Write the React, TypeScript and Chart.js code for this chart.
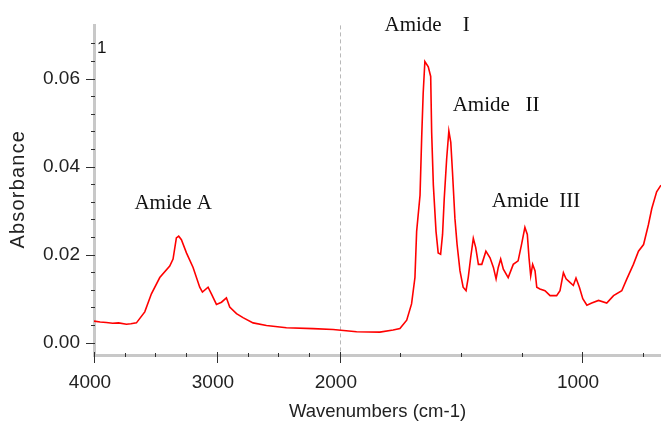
import React, { useEffect, useRef } from "react";
import { Chart, registerables } from "chart.js";

Chart.register(...registerables);

// ---- data ----
const wavenumbers = [
  4000, 3950, 3900, 3848, 3800, 3736, 3700, 3655, 3587, 3533, 3465, 3384, 3357, 3330, 3311, 3289,
  3248, 3194, 3140, 3118, 3072, 3045, 3004, 2963, 2923, 2896, 2841, 2788, 2706, 2597, 2435, 2218,
  2055, 1931, 1835, 1780, 1752, 1724, 1704, 1690, 1683, 1669, 1662, 1656, 1649, 1635, 1625, 1621,
  1614, 1603, 1594, 1584, 1576, 1569, 1559, 1550, 1542, 1535, 1525, 1516, 1504, 1491, 1479, 1470,
  1460, 1449, 1439, 1428, 1414, 1397, 1380, 1366, 1355, 1346, 1336, 1325, 1305, 1284, 1264, 1250,
  1236, 1226, 1219, 1212, 1204, 1194, 1187, 1174, 1153, 1132, 1105, 1091, 1077, 1066, 1050, 1036,
  1025, 1011, 997, 980, 960, 932, 898, 870, 836, 815, 788, 767, 746, 726, 712, 692, 674,
];
const absorbance = [
  0.0049, 0.0047, 0.0046, 0.0044, 0.0045, 0.0042, 0.0043, 0.0045, 0.007, 0.0111, 0.0148, 0.0174, 0.019, 0.0238, 0.0242, 0.0234,
  0.0204, 0.0171, 0.0126, 0.0115, 0.0126, 0.0111, 0.0087, 0.0092, 0.0102, 0.0081, 0.0066, 0.0057, 0.0045, 0.0039, 0.0034, 0.0032,
  0.003, 0.0025, 0.0024, 0.0029, 0.0032, 0.0051, 0.0088, 0.0148, 0.0253, 0.0335, 0.047, 0.0567, 0.0639, 0.0627, 0.0605, 0.0478,
  0.0358, 0.0253, 0.0204, 0.0201, 0.0246, 0.0328, 0.0418, 0.0481, 0.0455, 0.0388, 0.0283, 0.0223, 0.0163, 0.0126, 0.0118, 0.0148,
  0.0193, 0.0237, 0.0216, 0.0178, 0.0178, 0.0208, 0.0193, 0.0171, 0.0145, 0.0171, 0.019, 0.0167, 0.0148, 0.0178, 0.0186, 0.0223,
  0.0262, 0.0246, 0.0193, 0.0152, 0.0178, 0.0163, 0.0126, 0.0122, 0.0118, 0.0107, 0.0107, 0.0118, 0.0159, 0.0145, 0.0137, 0.013,
  0.0147, 0.0126, 0.01, 0.0085, 0.009, 0.0096, 0.009, 0.0107, 0.0118, 0.0145, 0.0178, 0.0208, 0.0223, 0.0268, 0.0305, 0.0343, 0.0358,
];

const xMajorTicks = [4000, 3000, 2000, 1000];
const xMinorTicks = [3750, 3500, 3250, 2750, 2500, 2250, 1750, 1500, 1250, 750];
const yMajorTicks = [0, 0.02, 0.04, 0.06];
const yMinorTicks = [0.004, 0.008, 0.012, 0.016, 0.024, 0.028, 0.032, 0.036, 0.044, 0.048, 0.052, 0.056, 0.064, 0.068];

const xRange = [4000, 674];
const yRange = [-0.0028, 0.0721];
const axisBreak = 2000;

const labels = [
  { text: "Amide A", w: 3356, a: 0.0316 },
  { text: "Amide    I", w: 1640, a: 0.072 },
  { text: "Amide   II", w: 1355, a: 0.054 },
  { text: "Amide  III", w: 1190, a: 0.032 },
];
const markerLabel = { text: "1", w: 3937, a: 0.0669 };

const xTitle = "Wavenumbers (cm-1)";
const yTitle = "Absorbance";

// Split axis: the part below 2000 cm-1 is drawn at about twice the scale.
const RIGHT_STRETCH = 1.97;
function toAxis(w: number) {
  return w >= axisBreak ? xRange[0] - w : xRange[0] - axisBreak + (axisBreak - w) * RIGHT_STRETCH;
}
function fromAxis(u: number) {
  const split = xRange[0] - axisBreak;
  return u <= split ? xRange[0] - u : axisBreak - (u - split) / RIGHT_STRETCH;
}

const decorPlugin = {
  id: "decor",
  beforeDatasetsDraw(chart: any) {
    const { ctx, chartArea, scales } = chart;
    const x = Math.round(scales.x.getPixelForValue(toAxis(axisBreak))) + 0.5;
    ctx.save();
    ctx.strokeStyle = "#b8b8b8";
    ctx.lineWidth = 1;
    ctx.setLineDash([4, 3]);
    ctx.beginPath();
    ctx.moveTo(x, chartArea.top);
    ctx.lineTo(x, chartArea.bottom);
    ctx.stroke();
    ctx.restore();
  },
  afterDraw(chart: any) {
    const { ctx, chartArea, scales } = chart;
    const xs = scales.x;
    const ys = scales.y;
    ctx.save();
    ctx.strokeStyle = "#303030";
    ctx.lineWidth = 1;
    const b = chartArea.bottom;
    const l = chartArea.left;
    ctx.beginPath();
    for (const w of xMajorTicks) {
      const px = Math.round(xs.getPixelForValue(toAxis(w))) + 0.5;
      ctx.moveTo(px, b - 3);
      ctx.lineTo(px, b + 8);
    }
    for (const w of xMinorTicks) {
      const px = Math.round(xs.getPixelForValue(toAxis(w))) + 0.5;
      ctx.moveTo(px, b - 2);
      ctx.lineTo(px, b + 2);
    }
    for (const v of yMajorTicks) {
      const py = Math.round(ys.getPixelForValue(v)) + 0.5;
      ctx.moveTo(l - 8, py);
      ctx.lineTo(l + 1, py);
    }
    for (const v of yMinorTicks) {
      const py = Math.round(ys.getPixelForValue(v)) + 0.5;
      ctx.moveTo(l - 3, py);
      ctx.lineTo(l + 1, py);
    }
    ctx.stroke();

    // annotations
    ctx.fillStyle = "#111";
    ctx.textAlign = "center";
    ctx.textBaseline = "middle";
    ctx.font = "21px 'Liberation Serif'";
    for (const lb of labels) {
      ctx.fillText(lb.text, xs.getPixelForValue(toAxis(lb.w)), ys.getPixelForValue(lb.a));
    }
    ctx.font = "17px 'Liberation Sans'";
    ctx.fillText(markerLabel.text, xs.getPixelForValue(toAxis(markerLabel.w)), ys.getPixelForValue(markerLabel.a));

    // y title
    ctx.font = "20px 'Liberation Sans'";
    ctx.fillStyle = "#222";
    (ctx as any).letterSpacing = "1.2px";
    ctx.translate(18.5, (chartArea.top + chartArea.bottom) / 2 - 1);
    ctx.rotate(-Math.PI / 2);
    ctx.fillText(yTitle, 0, 0);
    ctx.restore();
  },
};

export default function App() {
  const ref = useRef<HTMLCanvasElement | null>(null);
  useEffect(() => {
    if (!ref.current) return;
    const data = wavenumbers.map((w, i) => ({ x: toAxis(w), y: absorbance[i] }));
    const chart = new Chart(ref.current, {
      type: "line",
      data: {
        datasets: [
          {
            data,
            borderColor: "#ff0000",
            borderWidth: 1.6,
            pointRadius: 0,
            tension: 0,
            fill: false,
          },
        ],
      },
      options: {
        animation: false,
        responsive: false,
        devicePixelRatio: 1,
        layout: { padding: { top: 22, right: 0, left: 0, bottom: 0 } },
        plugins: { legend: { display: false }, tooltip: { enabled: false } },
        scales: {
          x: {
            type: "linear",
            min: toAxis(xRange[0]),
            max: toAxis(xRange[1]),
            afterFit: (s: any) => {
              s.height = 70;
            },
            afterBuildTicks: (s: any) => {
              s.ticks = xMajorTicks.map((w) => ({ value: toAxis(w) }));
            },
            grid: { display: true, drawOnChartArea: false, drawTicks: false },
            border: { display: true, color: "#c8c8c8", width: 3 },
            ticks: {
              autoSkip: false,
              maxRotation: 0,
              padding: 16,
              labelOffset: -4,
              color: "#222",
              font: { family: "'Liberation Sans'", size: 19 },
              callback: (v: any) => String(Math.round(fromAxis(Number(v)))),
            },
            title: {
              display: true,
              text: xTitle,
              color: "#222",
              font: { family: "'Liberation Sans'", size: 18.5 },
              padding: { top: 0, bottom: 2 },
            },
          },
          y: {
            type: "linear",
            min: yRange[0],
            max: yRange[1],
            afterFit: (s: any) => {
              s.width = 94;
            },
            afterBuildTicks: (s: any) => {
              s.ticks = yMajorTicks.map((v) => ({ value: v }));
            },
            grid: { display: true, drawOnChartArea: false, drawTicks: false },
            border: { display: true, color: "#c8c8c8", width: 3 },
            ticks: {
              padding: 14,
              color: "#222",
              font: { family: "'Liberation Sans'", size: 19 },
              callback: (v: any) => Number(v).toFixed(2),
            },
          },
        },
      },
      plugins: [decorPlugin],
    });
    return () => chart.destroy();
  }, []);
  return (
    <div style={{ position: "fixed", left: 0, top: 0, width: 661, height: 425, background: "#fff" }}>
      <canvas ref={ref} width={661} height={425} />
    </div>
  );
}
